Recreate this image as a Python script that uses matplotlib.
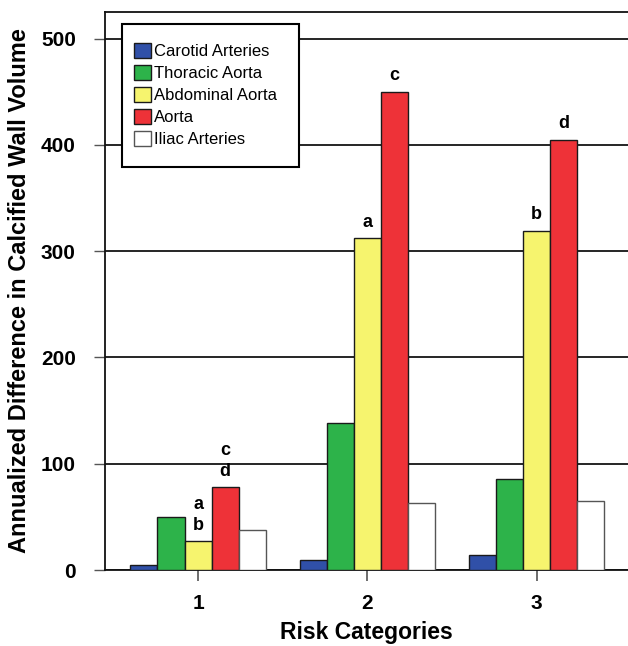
import matplotlib
matplotlib.use("Agg")
import matplotlib.pyplot as plt
from matplotlib.patches import Patch, Rectangle
import numpy as np

plt.rcParams['font.family'] = ['Liberation Sans', 'DejaVu Sans']

categories = ["1", "2", "3"]
series = ["Carotid Arteries", "Thoracic Aorta", "Abdominal Aorta", "Aorta", "Iliac Arteries"]
carotid = [5, 9, 14]
thoracic = [50, 138, 86]
abdominal = [27, 312, 319]
aorta = [78, 450, 405]
iliac = [38, 63, 65]
values = [carotid, thoracic, abdominal, aorta, iliac]
colors = ["#3050A8", "#2DB34A", "#F6F46E", "#EE3238", "#FFFFFF"]
edgecolors = ["#1a1a1a", "#1a1a1a", "#1a1a1a", "#1a1a1a", "#555555"]
# significance letters per (series index, category index), lowest first
letters = {(2, 0): ["b", "a"], (3, 0): ["d", "c"],
           (2, 1): ["a"], (3, 1): ["c"],
           (2, 2): ["b"], (3, 2): ["d"]}

fig = plt.figure(figsize=(6.28, 6.46), dpi=100)
ax = fig.add_axes([105/628, 1 - 570/646, 1 - 105/628, (570 - 12)/646])

x = np.arange(1, len(categories) + 1)
w = 0.16
for i, (vals, c, ec) in enumerate(zip(values, colors, edgecolors)):
    pos = x + (i - 2) * w
    ax.bar(pos, vals, width=w, color=c, edgecolor=ec, linewidth=1.0, zorder=3)
    for j, v in enumerate(vals):
        for k, lt in enumerate(letters.get((i, j), [])):
            ax.annotate(lt, (pos[j], v), xytext=(0, 11.5 + 15 * k), textcoords='offset points',
                        ha='center', va='center', fontsize=13, fontweight='bold', zorder=4)

ax.set_xlim(0.45, 3.54)
ax.set_ylim(0, 525)
ax.set_yticks([0, 100, 200, 300, 400, 500])
ax.set_xticks(x)
ax.set_xticklabels(categories)
ax.yaxis.grid(True, color='black', linewidth=1.2, zorder=0)
ax.set_axisbelow(True)
for lab in ax.get_xticklabels() + ax.get_yticklabels():
    lab.set_fontweight('bold')
    lab.set_fontsize(15)
ax.tick_params(axis='y', length=8, width=1, color='#555555', pad=13)
ax.tick_params(axis='x', length=8, width=1.2, color='#555555', pad=9)
ax.spines['right'].set_visible(False)
for s in ['left', 'top', 'bottom']:
    ax.spines[s].set_linewidth(1.3)
    ax.spines[s].set_color('#111111')

ax.set_ylabel("Annualized Difference in Calcified Wall Volume", fontsize=17, fontweight='bold')
ax.yaxis.set_label_coords(-74/523, 0.5)
ax.set_xlabel("Risk Categories", fontsize=16.5, fontweight='bold', labelpad=6)

# legend frame drawn separately
ax.add_patch(Rectangle((17/523, (570-167)/558), 177/523, 143/558, transform=ax.transAxes,
                       facecolor='white', edgecolor='black', linewidth=1.5, zorder=5))
handles = [Patch(facecolor=c, edgecolor=ec, linewidth=1.0) for c, ec in zip(colors, edgecolors)]
leg = ax.legend(handles, series, loc='upper left', bbox_to_anchor=(29/523, (570-43)/558),
                fontsize=12, frameon=False,
                handlelength=1.0, handleheight=1.0, handletextpad=0.2, labelspacing=0.35,
                borderpad=0, borderaxespad=0)
leg.set_zorder(6)

fig.savefig("out.png", dpi=100)
